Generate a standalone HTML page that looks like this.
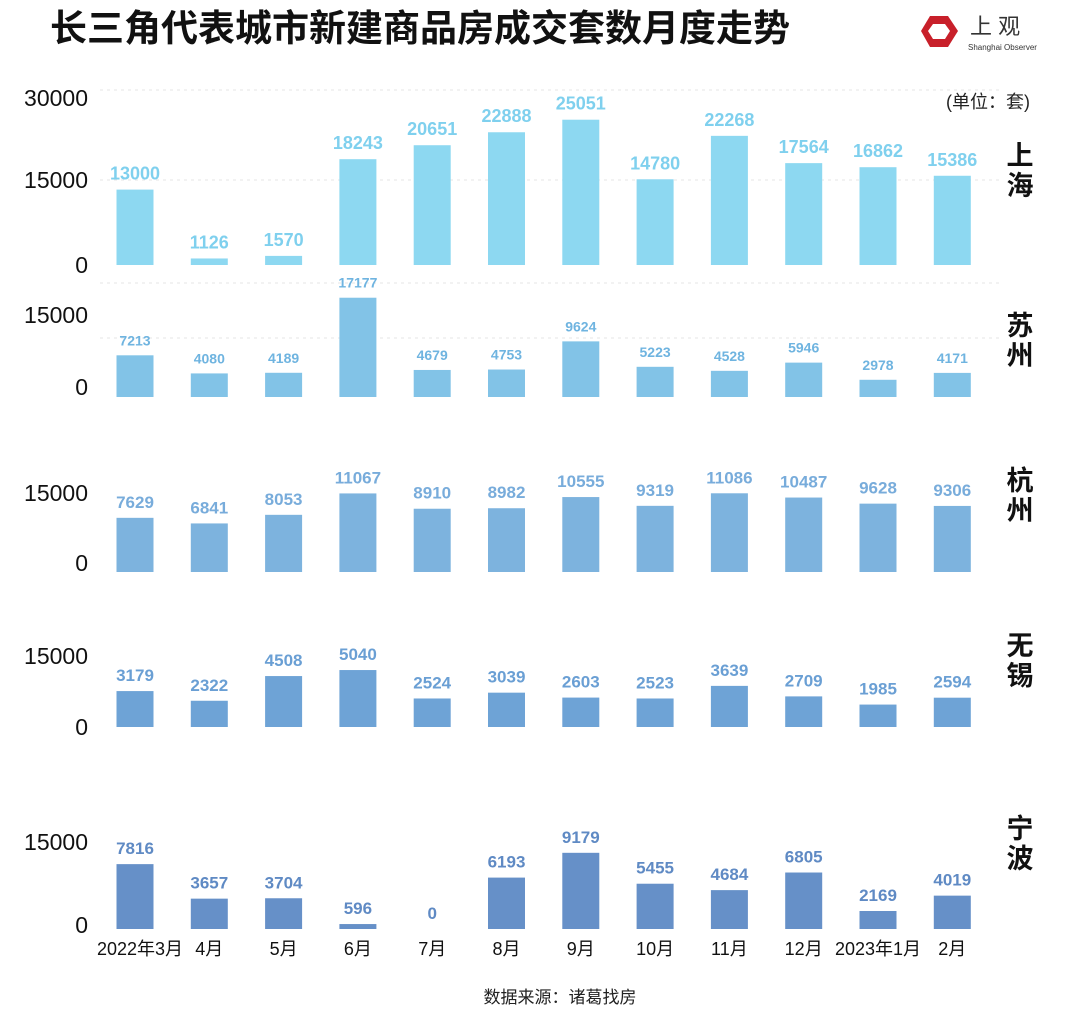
<!DOCTYPE html>
<html><head><meta charset="utf-8"><style>
html,body{margin:0;padding:0;background:#fff;}
svg{display:block;font-family:"Liberation Sans","Noto Sans CJK SC",sans-serif;}
</style></head><body>
<svg id="chart" width="1080" height="1014" viewBox="0 0 1080 1014">
<text x="50" y="41" font-size="37" font-weight="bold" fill="#111">长三角代表城市新建商品房成交套数月度走势</text>
<g>
<polygon points="930,16 948,16 958,31 948,47 930,47 921,31" fill="#c8202a"/>
<polygon points="933,24 945,24 950,31 945,39 933,39 928,31" fill="#fff"/>
<text x="970" y="34" font-size="22" fill="#333">上 观</text>
<text x="968" y="50" font-size="8" fill="#333">Shanghai Observer</text>
</g>
<text x="1030" y="108" font-size="18" text-anchor="end" fill="#222">(单位：套)</text>
<g id="panels"></g>
<g id="xaxis"></g>
<text x="560" y="1003" font-size="17" text-anchor="middle" fill="#222">数据来源：诸葛找房</text>
</svg>
<script>
const months = ["2022年3月","4月","5月","6月","7月","8月","9月","10月","11月","12月","2023年1月","2月"];
const cities = ["上海","苏州","杭州","无锡","宁波"];
const shanghai = [13000,1126,1570,18243,20651,22888,25051,14780,22268,17564,16862,15386];
const suzhou = [7213,4080,4189,17177,4679,4753,9624,5223,4528,5946,2978,4171];
const hangzhou = [7629,6841,8053,11067,8910,8982,10555,9319,11086,10487,9628,9306];
const wuxi = [3179,2322,4508,5040,2524,3039,2603,2523,3639,2709,1985,2594];
const ningbo = [7816,3657,3704,596,0,6193,9179,5455,4684,6805,2169,4019];
const shTicks = ["0","15000","30000"];
const otherTicks = ["0","15000"];

const series=[shanghai,suzhou,hangzhou,wuxi,ningbo];
const cfg=[
 {base:265,scale:0.0058,color:"#8dd8f1",lab:"#7fd0ee",fs:18,ticks:shTicks,tickY:[265,180,98],grid:[180,90],cityY:165},
 {base:397,scale:0.00578,color:"#82c3e7",lab:"#6fb4e0",fs:14,ticks:otherTicks,tickY:[387,315],grid:[338,283],cityY:335},
 {base:572,scale:0.0071,color:"#7db3de",lab:"#78acdb",fs:17,ticks:otherTicks,tickY:[563,493],grid:[],cityY:490},
 {base:727,scale:0.0113,color:"#6ea3d6",lab:"#6a9fd4",fs:17,ticks:otherTicks,tickY:[727,656],grid:[],cityY:655},
 {base:929,scale:0.0083,color:"#6690c8",lab:"#5f8ac4",fs:17,ticks:otherTicks,tickY:[925,842],grid:[],cityY:838}
];
const NS="http://www.w3.org/2000/svg";
const panels=document.getElementById('panels');
const xaxis=document.getElementById('xaxis');
function xPos(i){return 135+i*74.3;}
function mk(tag,attrs,parent){const e=document.createElementNS(NS,tag);for(const k in attrs)e.setAttribute(k,attrs[k]);parent.appendChild(e);return e;}
series.forEach((vals,p)=>{
 const c=cfg[p];
 const g=mk('g',{},panels);
 
 
 c.grid.forEach(y=>{const l=mk('line',{x1:100,x2:1000,y1:y,y2:y,stroke:"#e6e6e6","stroke-dasharray":"3,4"},g);
  
  });
 c.ticks.forEach((t,i)=>{const tx=mk('text',{x:88,y:c.tickY[i]+8,"font-size":23,"text-anchor":"end",fill:"#111"},g);tx.textContent=t;
  
  });
 vals.forEach((v,i)=>{
  const h=v*c.scale;
  const x=xPos(i);
  const r=mk('rect',{x:x-18.5,y:c.base-h,width:37,height:Math.max(h,0),fill:c.color},g);
  
  
  const t=mk('text',{x:x,y:c.base-h-10,"font-size":c.fs,"font-weight":"bold","text-anchor":"middle",fill:c.lab},g);
  t.textContent=v;
  
  
 });
 const cn=cities[p];
 for(let k=0;k<2;k++){const t=mk('text',{x:1020,y:c.cityY+k*30,"font-size":27,"font-weight":"bold","text-anchor":"middle",fill:"#111"},g);t.textContent=cn[k];
  
  }
});
months.forEach((m,i)=>{const t=mk('text',{x:xPos(i)+(i==0?5:0),y:955,"font-size":18,"text-anchor":"middle",fill:"#111"},xaxis);t.textContent=m;
 
 });
</script>
</body></html>
